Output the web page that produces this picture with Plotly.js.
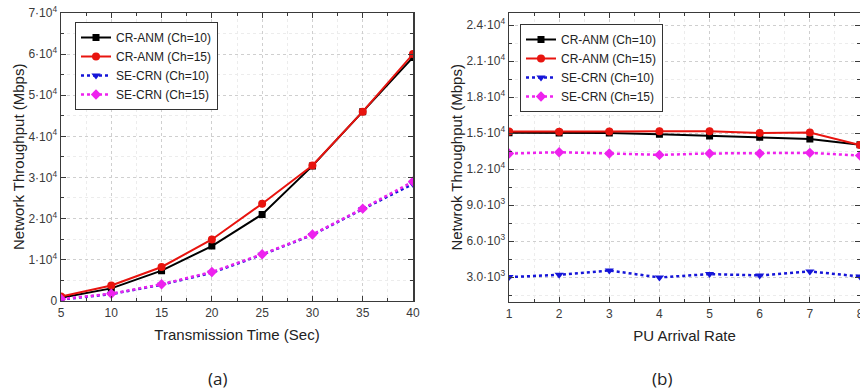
<!DOCTYPE html>
<html>
<head>
<meta charset="utf-8">
<script src="https://cdn.plot.ly/plotly-3.0.1.min.js"></script>
<style>html,body{margin:0;padding:0;background:#fff;overflow:hidden;}#chart{width:860px;height:390px;}</style>
</head>
<body>
<div id="chart"></div>
<script>
// ---- Data: panel (a) ----
const timeSec = [5, 10, 15, 20, 25, 30, 35, 40];
const crAnm10_a = [700, 3000, 7300, 13300, 21000, 32800, 46000, 59200];
const crAnm15_a = [1000, 3700, 8200, 14900, 23600, 32900, 46000, 60000];
const seCrn10_a = [300, 1600, 3900, 6800, 11200, 16000, 22300, 28400];
const seCrn15_a = [400, 1700, 4000, 7000, 11300, 16100, 22400, 29000];
const yTickVals_a = [0, 10000, 20000, 30000, 40000, 50000, 60000, 70000];
const yTickText_a = ["0", "1·10<sup>4</sup>", "2·10<sup>4</sup>", "3·10<sup>4</sup>", "4·10<sup>4</sup>", "5·10<sup>4</sup>", "6·10<sup>4</sup>", "7·10<sup>4</sup>"];

// ---- Data: panel (b) ----
const puRate = [1, 2, 3, 4, 5, 6, 7, 8];
const crAnm10_b = [15030, 15000, 15000, 14890, 14750, 14640, 14500, 14030];
const crAnm15_b = [15120, 15100, 15120, 15150, 15150, 15000, 15050, 14000];
const seCrn10_b = [3000, 3190, 3550, 2970, 3250, 3140, 3470, 3050];
const seCrn15_b = [13290, 13400, 13300, 13180, 13300, 13300, 13350, 13120];
const yTickVals_b = [3000, 6000, 9000, 12000, 15000, 18000, 21000, 24000];
const yTickText_b = ["3.0·10<sup>3</sup>", "6.0·10<sup>3</sup>", "9.0·10<sup>3</sup>", "1.2·10<sup>4</sup>", "1.5·10<sup>4</sup>", "1.8·10<sup>4</sup>", "2.1·10<sup>4</sup>", "2.4·10<sup>4</sup>"];

const names = ["CR-ANM (Ch=10)", "CR-ANM (Ch=15)", "SE-CRN (Ch=10)", "SE-CRN (Ch=15)"];

const styles = [
  {line: {color: "#000000", width: 2, dash: "solid"}, marker: {symbol: "square", size: 7, color: "#000000"}},
  {line: {color: "#e8140f", width: 2, dash: "solid"}, marker: {symbol: "circle", size: 8, color: "#e8140f"}},
  {line: {color: "#1515d8", width: 2.5, dash: "dot"}, marker: {symbol: "triangle-down", size: 8, color: "#1515d8"}},
  {line: {color: "#ee22ee", width: 2.5, dash: "dot"}, marker: {symbol: "diamond", size: 8, color: "#ee22ee"}}
];

const seriesA = [crAnm10_a, crAnm15_a, seCrn10_a, seCrn15_a];
const seriesB = [crAnm10_b, crAnm15_b, seCrn10_b, seCrn15_b];

const traces = [];
seriesA.forEach((ys, i) => {
  traces.push(Object.assign({x: timeSec, y: ys, name: names[i], type: "scatter", mode: "lines+markers",
    xaxis: "x", yaxis: "y", legend: "legend"}, JSON.parse(JSON.stringify(styles[i]))));
});
seriesB.forEach((ys, i) => {
  traces.push(Object.assign({x: puRate, y: ys, name: names[i], type: "scatter", mode: "lines+markers",
    xaxis: "x2", yaxis: "y2", legend: "legend2"}, JSON.parse(JSON.stringify(styles[i]))));
});

const axisCommon = {
  showline: true, linecolor: "#3a3a3a", linewidth: 1.5, mirror: "ticks",
  ticks: "inside", ticklen: 5, tickcolor: "#3a3a3a", tickwidth: 1,
  showgrid: true, gridcolor: "#cfcfcf", griddash: "dot", gridwidth: 1,
  zeroline: false, automargin: false, ticklabeloverflow: "allow",
  tickfont: {family: "Liberation Sans, Arial, sans-serif", size: 12, color: "#3a3a3a"},
};
function minorCfg(d) {
  return {dtick: d, ticks: "inside", ticklen: 3, tickcolor: "#3a3a3a", showgrid: true, gridcolor: "#ececec", griddash: "dot", gridwidth: 1};
}
const titleFont = {family: "Liberation Sans, Arial, sans-serif", size: 15, color: "#222"};

const layout = {
  width: 860, height: 390,
  margin: {l: 0, r: 0, t: 0, b: 0, autoexpand: false},
  paper_bgcolor: "#fff", plot_bgcolor: "#fff",
  showlegend: true,
  xaxis: Object.assign({}, axisCommon, {
    domain: [61/860, 413/860], range: [5, 40], tickmode: "array", tickvals: timeSec,
    anchor: "y", minor: minorCfg(2.5),
    title: {text: "Transmission Time (Sec)", font: titleFont, standoff: 11}
  }),
  yaxis: Object.assign({}, axisCommon, {
    domain: [1 - 300.7/390, 1 - 13/390], range: [0, 70000], tickmode: "array",
    tickvals: yTickVals_a, ticktext: yTickText_a, anchor: "x", minor: minorCfg(5000),
    title: {text: "Network Throughput (Mbps)", font: titleFont, standoff: 0}
  }),
  xaxis2: Object.assign({}, axisCommon, {
    domain: [509/860, 1], range: [1, 8], tickmode: "array", tickvals: puRate,
    anchor: "y2", minor: minorCfg(0.5),
    title: {text: "PU Arrival Rate", font: titleFont, standoff: 11}
  }),
  yaxis2: Object.assign({}, axisCommon, {
    domain: [1 - 301.7/390, 1 - 13/390], range: [950, 25000], tickmode: "array",
    tickvals: yTickVals_b, ticktext: yTickText_b, anchor: "x2",
    minor: {tickvals: [1500, 4500, 7500, 10500, 13500, 16500, 19500, 22500], ticks: "inside", ticklen: 3, tickcolor: "#3a3a3a", showgrid: true, gridcolor: "#ececec", griddash: "dot", gridwidth: 1},
    title: {text: "Netwrok Throughput (Mbps)", font: titleFont, standoff: 0}
  }),
  legend: {
    x: 75/860, y: 1 - 22/390, xanchor: "left", yanchor: "top",
    bgcolor: "#fff", bordercolor: "#333", borderwidth: 1,
    font: {family: "Liberation Sans, Arial, sans-serif", size: 12, color: "#222"},
    tracegroupgap: 0, itemwidth: 30
  },
  legend2: {
    x: 520/860, y: 1 - 24/390, xanchor: "left", yanchor: "top",
    bgcolor: "#fff", bordercolor: "#333", borderwidth: 1,
    font: {family: "Liberation Sans, Arial, sans-serif", size: 12, color: "#222"},
    tracegroupgap: 0, itemwidth: 30
  },
  annotations: [
    {text: "(a)", xref: "paper", yref: "paper", x: 217/860, y: 1 - 378/390, showarrow: false,
     xanchor: "center", yanchor: "middle",
     font: {family: "Open Sans, sans-serif", size: 17, color: "#222"}},
    {text: "(b)", xref: "paper", yref: "paper", x: 662/860, y: 1 - 378/390, showarrow: false,
     xanchor: "center", yanchor: "middle",
     font: {family: "Open Sans, sans-serif", size: 17, color: "#222"}}
  ]
};

Plotly.newPlot("chart", traces, layout, {displayModeBar: false, staticPlot: true});
</script>
</body>
</html>
